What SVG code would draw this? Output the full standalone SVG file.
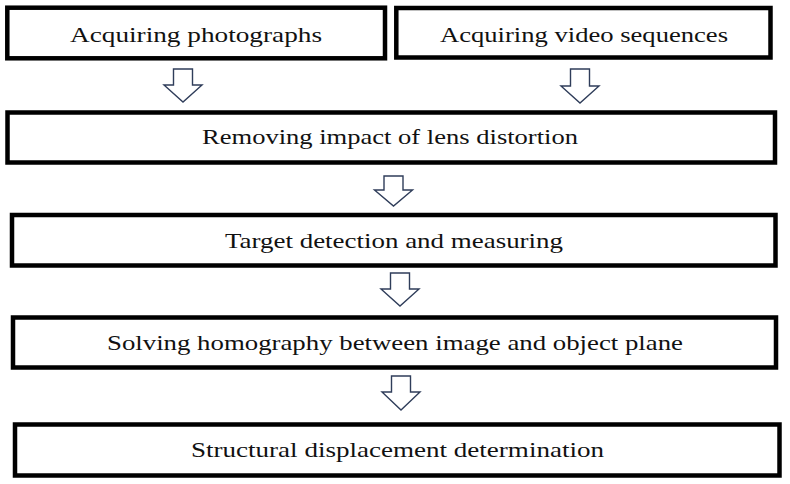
<svg xmlns="http://www.w3.org/2000/svg" width="790" height="484" viewBox="0 0 790 484">
<style>
.box{fill:#fff;stroke:#000;stroke-width:4.5}
.lbl{font-family:"Liberation Serif","DejaVu Serif",serif;font-size:22px;fill:#111}
.arr{fill:#fff;stroke:#2f3d5a;stroke-width:1.4;stroke-linejoin:miter}
</style>
<rect width="790" height="484" fill="#fff"/>
<g id="connectors">
<path class="arr" d="M173.5,69 H192.5 V85 H202 L183,102 L164,85 H173.5 Z"/>
<path class="arr" d="M570.5,69 H589.5 V86 H599 L580,103 L561,86 H570.5 Z"/>
<path class="arr" d="M384,176 H403 V190 H412.5 L393.5,206 L374.5,190 H384 Z"/>
<path class="arr" d="M390.5,273 H409.5 V289 H419 L400,306 L381,289 H390.5 Z"/>
<path class="arr" d="M391.5,376 H410.5 V392 H420 L401,410 L382,392 H391.5 Z"/>
</g>
<g id="n1"><rect class="box" x="7.3" y="7.7" width="377.7" height="50.6"/><text class="lbl" x="70" y="42" textLength="252" lengthAdjust="spacingAndGlyphs">Acquiring photographs</text></g>
<g id="n2"><rect class="box" x="396.3" y="8" width="374.2" height="49.5"/><text class="lbl" x="440" y="42" textLength="288" lengthAdjust="spacingAndGlyphs">Acquiring video sequences</text></g>
<g id="n3"><rect class="box" x="7.5" y="112.5" width="767.5" height="50"/><text class="lbl" x="202" y="144" textLength="376" lengthAdjust="spacingAndGlyphs">Removing impact of lens distortion</text></g>
<g id="n4"><rect class="box" x="12" y="215" width="763.5" height="50.5"/><text class="lbl" x="225" y="248" textLength="338" lengthAdjust="spacingAndGlyphs">Target detection and measuring</text></g>
<g id="n5"><rect class="box" x="13" y="317.5" width="763" height="50"/><text class="lbl" x="107" y="350" textLength="576" lengthAdjust="spacingAndGlyphs">Solving homography between image and object plane</text></g>
<g id="n6"><rect class="box" x="15" y="424.5" width="764.5" height="51"/><text class="lbl" x="191" y="457" textLength="413" lengthAdjust="spacingAndGlyphs">Structural displacement determination</text></g>
</svg>
